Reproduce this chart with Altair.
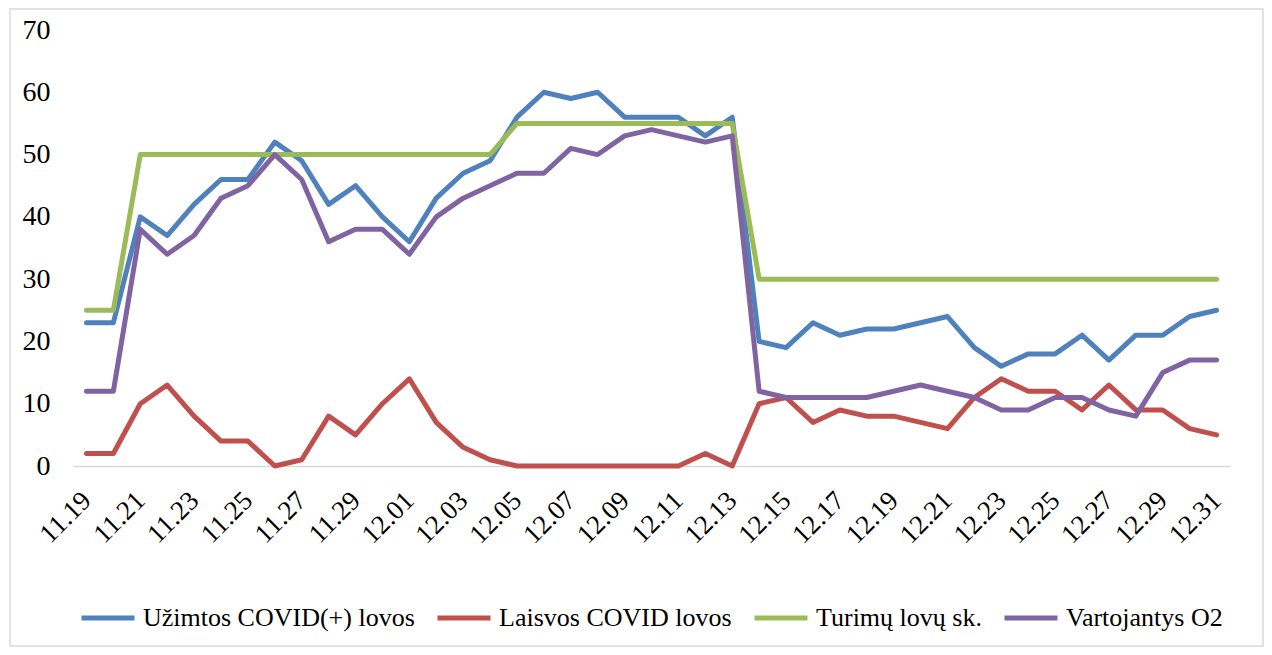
import altair as alt
import pandas as pd

dates = ["11.19", "11.20", "11.21", "11.22", "11.23", "11.24", "11.25", "11.26", "11.27", "11.28",
         "11.29", "11.30", "12.01", "12.02", "12.03", "12.04", "12.05", "12.06", "12.07", "12.08",
         "12.09", "12.10", "12.11", "12.12", "12.13", "12.14", "12.15", "12.16", "12.17", "12.18",
         "12.19", "12.20", "12.21", "12.22", "12.23", "12.24", "12.25", "12.26", "12.27", "12.28",
         "12.29", "12.30", "12.31"]

uzimtos = [23, 23, 40, 37, 42, 46, 46, 52, 49, 42, 45, 40,
           36, 43, 47, 49, 56, 60, 59, 60, 56, 56, 56, 53, 56,
           20, 19, 23, 21, 22, 22, 23, 24, 19, 16, 18, 18, 21, 17, 21, 21, 24, 25]
laisvos = [2, 2, 10, 13, 8, 4, 4, 0, 1, 8, 5, 10,
           14, 7, 3, 1, 0, 0, 0, 0, 0, 0, 0, 2, 0,
           10, 11, 7, 9, 8, 8, 7, 6, 11, 14, 12, 12, 9, 13, 9, 9, 6, 5]
turimu = [25, 25, 50, 50, 50, 50, 50, 50, 50, 50, 50, 50,
          50, 50, 50, 50, 55, 55, 55, 55, 55, 55, 55, 55, 55,
          30, 30, 30, 30, 30, 30, 30, 30, 30, 30, 30, 30, 30, 30, 30, 30, 30, 30]
vartojantys = [12, 12, 38, 34, 37, 43, 45, 50, 46, 36, 38, 38,
               34, 40, 43, 45, 47, 47, 51, 50, 53, 54, 53, 52, 53,
               12, 11, 11, 11, 11, 12, 13, 12, 11, 9, 9, 11, 11, 9, 8, 15, 17, 17]

series_names = ["Užimtos COVID(+) lovos", "Laisvos COVID lovos", "Turimų lovų sk.", "Vartojantys O2"]
series_values = [uzimtos, laisvos, turimu, vartojantys]
colors = ["#4F81BD", "#C0504D", "#9BBB59", "#8064A2"]
y_ticks = [0, 10, 20, 30, 40, 50, 60, 70]

rows = []
for name, vals in zip(series_names, series_values):
    for d, v in zip(dates, vals):
        rows.append({"date": d, "value": v, "series": name})
df = pd.DataFrame(rows)

FONT = "Liberation Serif, Times New Roman, serif"

lines = alt.Chart(df).mark_line(strokeWidth=5, strokeCap="round", strokeJoin="round").encode(
    x=alt.X("date:O", sort=dates,
            scale=alt.Scale(type="point", padding=0.5),
            axis=alt.Axis(values=dates[::2], labelAngle=315, labelAlign="right",
                          labelBaseline="middle", ticks=False, domainColor="#D9D9D9",
                          domainWidth=1.5, labelPadding=30, title=None,
                          labelFontSize=27, labelFont=FONT, labelColor="black")),
    y=alt.Y("value:Q", scale=alt.Scale(domain=[0, 70], nice=False),
            axis=alt.Axis(values=y_ticks, ticks=False, domain=False, grid=False,
                          labelPadding=23, labelFontSize=28, labelFont=FONT,
                          labelColor="black", title=None)),
    color=alt.Color("series:N", sort=series_names,
                    scale=alt.Scale(domain=series_names, range=colors),
                    legend=alt.Legend(title=None, orient="none", legendX=6, legendY=559,
                                      direction="horizontal", symbolType="stroke",
                                      symbolSize=2809, symbolStrokeWidth=5,
                                      labelFontSize=26, labelFont=FONT, labelColor="black",
                                      labelOffset=6, columnPadding=12, labelLimit=400)),
)

frame = alt.Chart(pd.DataFrame({"a": [0]})).mark_rect(
    fill=None, stroke="#D9D9D9", strokeWidth=1.5
).encode(
    x=alt.value(-63), x2=alt.value(1190), y=alt.value(-21), y2=alt.value(616)
)

chart = alt.layer(frame, lines).properties(
    width=1157, height=436,
    autosize=alt.AutoSizeParams(type="none"),
    padding={"left": 65, "top": 22, "right": 34, "bottom": 181},
).configure_view(stroke=None)

chart.save("out.html", embed_options={"renderer": "svg", "actions": False})
